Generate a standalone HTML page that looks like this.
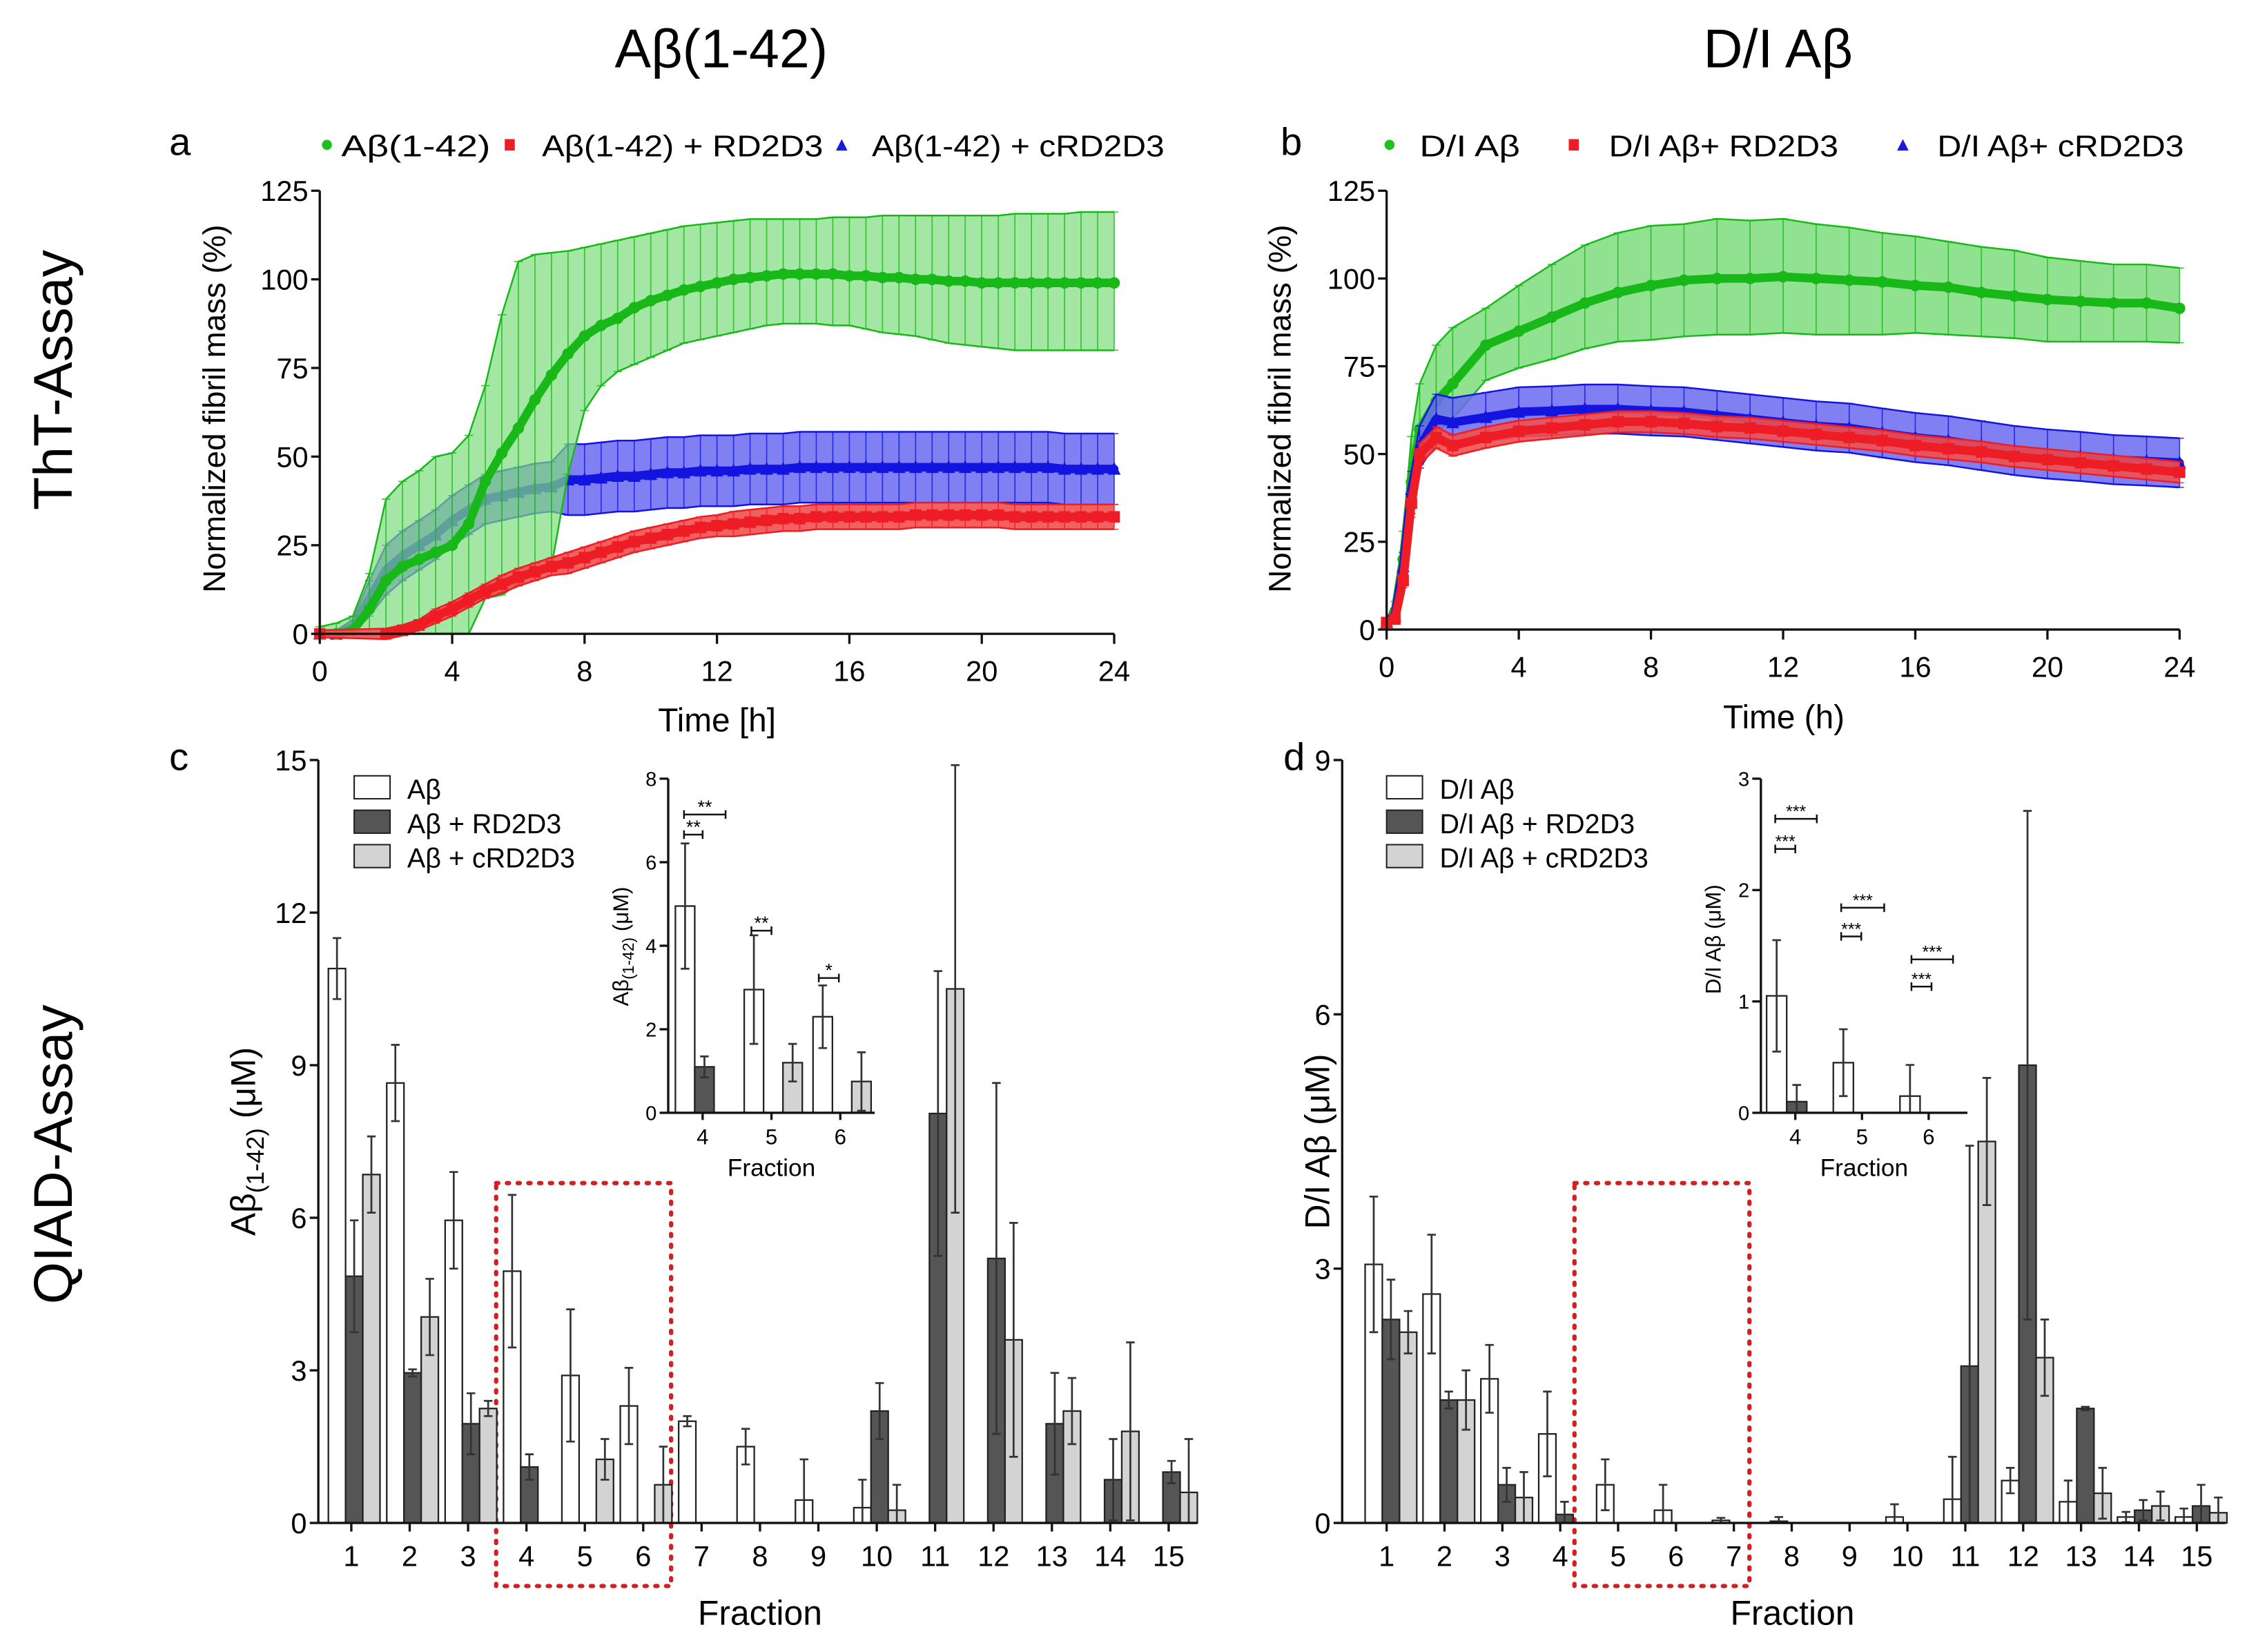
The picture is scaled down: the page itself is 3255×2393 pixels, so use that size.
<!DOCTYPE html>
<html><head><meta charset="utf-8">
<style>
html,body{margin:0;padding:0;background:#fff;}
svg{display:block;font-family:"Liberation Sans",Arial,sans-serif;}
</style></head>
<body>
<svg id="fig" xmlns="http://www.w3.org/2000/svg" width="3255" height="2393" viewBox="0 0 1567 1152" preserveAspectRatio="none">
<rect x="0" y="0" width="1567" height="1152" fill="#fff"/>
<text x="503" y="47" font-size="38" text-anchor="middle">Aβ(1-42)</text>
<text x="1240" y="47" font-size="38" text-anchor="middle">D/I Aβ</text>
<text transform="translate(50,265) rotate(-90)" font-size="38" text-anchor="middle">ThT-Assay</text>
<text transform="translate(50,805) rotate(-90)" font-size="38" text-anchor="middle">QIAD-Assay</text>
<text x="118" y="108" font-size="27">a</text>
<text x="893" y="108" font-size="27">b</text>
<text x="118" y="537" font-size="27">c</text>
<text x="895" y="537" font-size="27">d</text>
<g id="legA">
<circle cx="228" cy="101" r="3.5" fill="#1ec01e"/>
<text x="238" y="109" font-size="21" textLength="104" lengthAdjust="spacingAndGlyphs">Aβ(1-42)</text>
<rect x="352" y="97" width="7" height="8" fill="#ee1c24"/>
<text x="378" y="109" font-size="21" textLength="196" lengthAdjust="spacingAndGlyphs">Aβ(1-42) + RD2D3</text>
<polygon points="583,105 587,97 591,105" fill="#1a1ad8"/>
<text x="608" y="109" font-size="21" textLength="204" lengthAdjust="spacingAndGlyphs">Aβ(1-42) + cRD2D3</text>
</g>
<g id="legB">
<circle cx="969" cy="101" r="3.5" fill="#1ec01e"/>
<text x="990" y="109" font-size="21" textLength="70" lengthAdjust="spacingAndGlyphs">D/I Aβ</text>
<rect x="1094" y="97" width="7" height="8" fill="#ee1c24"/>
<text x="1122" y="109" font-size="21" textLength="160" lengthAdjust="spacingAndGlyphs">D/I Aβ+ RD2D3</text>
<polygon points="1323,105 1327,97 1331,105" fill="#1a1ad8"/>
<text x="1351" y="109" font-size="21" textLength="172" lengthAdjust="spacingAndGlyphs">D/I Aβ+ cRD2D3</text>
</g>
<text transform="translate(157,285) rotate(-90)" font-size="22" text-anchor="middle">Normalized fibril mass (%)</text>
<text transform="translate(900,285) rotate(-90)" font-size="22" text-anchor="middle">Normalized fibril mass (%)</text>
<text x="500" y="510" font-size="23" text-anchor="middle">Time [h]</text>
<text x="1244" y="508" font-size="23" text-anchor="middle">Time (h)</text>
<text transform="translate(178,796) rotate(-90)" font-size="24" text-anchor="middle">Aβ<tspan font-size="17" dy="6">(1-42)</tspan><tspan dy="-6"> (μM)</tspan></text>
<text transform="translate(927,796) rotate(-90)" font-size="24" text-anchor="middle">D/I Aβ (μM)</text>
<text x="530" y="1133" font-size="24" text-anchor="middle">Fraction</text>
<text x="1250" y="1133" font-size="24" text-anchor="middle">Fraction</text>
<text x="538" y="820" font-size="17" text-anchor="middle">Fraction</text>
<text x="1300" y="820" font-size="17" text-anchor="middle">Fraction</text>
<text transform="translate(438,660) rotate(-90)" font-size="15" text-anchor="middle">Aβ<tspan font-size="11" dy="4">(1-42)</tspan><tspan dy="-4"> (μM)</tspan></text>
<text transform="translate(1200,655) rotate(-90)" font-size="15" text-anchor="middle">D/I Aβ (μM)</text>
<g>
<rect x="247" y="541" width="25" height="16" fill="#fff" stroke="#222"/>
<text x="284" y="557" font-size="19">Aβ</text>
<rect x="247" y="565" width="25" height="16" fill="#555" stroke="#222"/>
<text x="284" y="581" font-size="19">Aβ + RD2D3</text>
<rect x="247" y="589" width="25" height="16" fill="#d3d3d3" stroke="#222"/>
<text x="284" y="605" font-size="19">Aβ + cRD2D3</text>
</g>
<g>
<rect x="967" y="541" width="25" height="16" fill="#fff" stroke="#222"/>
<text x="1004" y="557" font-size="19">D/I Aβ</text>
<rect x="967" y="565" width="25" height="16" fill="#555" stroke="#222"/>
<text x="1004" y="581" font-size="19">D/I Aβ + RD2D3</text>
<rect x="967" y="589" width="25" height="16" fill="#d3d3d3" stroke="#222"/>
<text x="1004" y="605" font-size="19">D/I Aβ + cRD2D3</text>
</g>
<rect x="346" y="825" width="122" height="281" fill="none" stroke="#d02020" stroke-width="3" stroke-dasharray="1.5,6" stroke-linecap="round"/>
<rect x="1098" y="825" width="122" height="281" fill="none" stroke="#d02020" stroke-width="3" stroke-dasharray="1.5,6" stroke-linecap="round"/>
<g id="plots"></g>
</svg>
<script>
// ---------- Panel a data (time in h, step 0.5) ----------
const timesA = [];
for (let i = 0; i <= 48; i++) timesA.push(i / 2);
const aGreenMean = [0,0,1,7,15,19,21,23,25,31,43,51,58,66,73,79,84,87,89,92,94,95.5,97,98,99,100,100.5,101,101.5,101.5,101.5,101.5,101,101,100.5,100.5,100,100,99.5,99.5,99,99,99,99,99,99,99,99,99];
const aGreenHigh = [2,3,5,17,38,43,46,50,51,56,70,90,105,107,107.5,108,109,110,111,112,113,114,115,115.5,116,116.5,117,117,117,117,117,117.5,117.5,117.5,118,118,118,118,118,118,118,118,118.5,118.5,118.5,118.5,119,119,119];
const aGreenLow = [0,0,0,0,0,0,0,0,0,0,10,11,14,17,19,45,63,70,74,76,78,80,82,83,84,85,86,87,87.5,87.5,87.5,87,87,86,85,84.5,84,83,82,81.5,81,80.5,80,80,80,80,80,80,80];
const aBlueMean = [0,0,2,10,18,22,25,28,32,35,38,39,40,41,41.5,43.5,43.5,44,44.5,44.5,45,45.5,45.5,46,46,46,46.5,46.5,46.5,47,47,47,47,47,47,47,47,47,47,47,47,47,47,47,47,46.5,46.5,46.5,46.5];
const aBlueErr = [1,1,2,5,7,7,7,7,7,7,7,7,7,7,7,10,10,10,10,10,10,10,10,10,10,10,10,10,10,10,10,10,10,10,10,10,10,10,10,10,10,10,10,10,10,10,10,10,10];
const aRedMean = [0,null,null,null,0,1,2.5,5,7,9.5,12,14,16,17.5,19,20,21.5,23,24.5,26,27,28,29,30,30.5,31,31.5,32,32.5,32.5,33,33,33,33,33,33,33.5,33.5,33.5,33.5,33.5,33.5,33,33,33,33,33,33,33];
const aRedErr = [1,null,null,null,1.5,1.5,1.5,2,2,2,2,2.5,2.5,2.5,2.5,3,3,3,3,3,3,3,3,3,3,3.5,3.5,3.5,3.5,3.5,3.5,3.5,3.5,3.5,3.5,3.5,3.5,3.5,3.5,3.5,3.5,3.5,3.5,3.5,3.5,3.5,3.5,3.5,3.5];
// ---------- Panel b data ----------
const timesB = [0,0.25,0.5,0.75,1,1.5,2,3,4,5,6,7,8,9,10,11,12,13,14,15,16,17,18,19,20,21,22,23,24];
const bGreenMean = [2,5,20,42,57,65,70,81,85,89,93,96,98,99.5,100,100,100.5,100,99.5,99,98,97.5,96,95,94,93.5,93,93,91.5];
const bGreenHigh = [3,8,28,55,70,81,86,91.5,98,104,109.5,113,115,115.5,117,116.5,117,115.5,114.5,113,112,110.5,109,108,106,105,104,104,103];
const bGreenLow = [1,3,14,32,48,56,60,71,74.5,77,80,82,82.5,83.5,84,84,84.5,84,84,84,84.5,84,83.5,83,82,82,82,82,81.7];
const bBlueMean = [2,4,18,40,52,60,59,60.5,62,62.3,62.8,62.8,62.3,62,61,60,59,58,57.4,56,54.7,53.8,52.4,51,50,49.3,48.4,48,47.5];
const bBlueErr = [1,2,4,5,6,7,7,7,7,7,7,7,7,7,7,7,7,7,7,7,7,7,7,7,7,7,7,7,7];
const bRedMean = [2,3,14,36,50,54.7,52.4,54.7,56.5,57.4,58.3,59.2,59.2,58.7,57.8,57.4,56.5,55.6,54.7,53.8,52.4,51.5,50.6,49.3,48.4,47.5,46.6,45.7,44.8];
const bRedErr = [1,1,2,3,3,3,3,3,3,3,3,3,3,3,3,3,3,3,3,3,3,3,3,3,3,3,3,3,3];
const timeTicks = [0,4,8,12,16,20,24];
const massTicks = [0,25,50,75,100,125];
// ---------- Panel c data ----------
const fractions = [1,2,3,4,5,6,7,8,9,10,11,12,13,14,15];
const cAbeta = [10.9,8.65,5.95,4.95,2.9,2.3,2.0,1.5,0.45,0.3,0,0,0,0,0];
const cAbetaErr = [0.6,0.75,0.95,1.5,1.3,0.75,0.1,0.35,0.8,0.55,0,0,0,0,0];
const cRD = [4.85,2.95,1.95,1.1,0,0,0,0,0,2.2,8.05,5.2,1.95,0.85,1.0];
const cRDErr = [1.1,0.07,0.6,0.25,0,0,0,0,0,0.55,2.8,3.45,1.0,0.8,0.22];
const cCRD = [6.85,4.05,2.25,0,1.25,0.75,0,0,0,0.25,10.5,3.6,2.2,1.8,0.6];
const cCRDErr = [0.75,0.75,0.15,0,0.4,0.75,0,0,0,0.5,4.4,2.3,0.65,1.75,1.05];
const cTicks = [0,3,6,9,12,15];
const cInsetFractions = [4,5,6];
const cInsetAbeta = [4.95,2.95,2.3];
const cInsetAbetaErr = [1.5,1.3,0.75];
const cInsetRD = [1.1,0,0];
const cInsetRDErr = [0.25,0,0];
const cInsetCRD = [0,1.2,0.75];
const cInsetCRDErr = [0,0.45,0.7];
const cInsetTicks = [0,2,4,6,8];
// ---------- Panel d data ----------
const dAbeta = [3.05,2.7,1.7,1.05,0.45,0.15,0.03,0.02,0,0.07,0.28,0.5,0.25,0.07,0.07];
const dAbetaErr = [0.8,0.7,0.4,0.5,0.3,0.3,0.03,0.05,0.03,0.15,0.5,0.15,0.25,0.06,0.1];
const dRD = [2.4,1.45,0.45,0.1,0,0,0,0,0,0,1.85,5.4,1.35,0.15,0.2];
const dRDErr = [0.47,0.1,0.2,0.15,0,0,0,0,0,0,2.6,3.0,0.02,0.12,0.25];
const dCRD = [2.25,1.45,0.3,0,0,0,0,0,0,0,4.5,1.95,0.35,0.2,0.12];
const dCRDErr = [0.25,0.35,0.3,0,0,0,0,0,0,0,0.75,0.45,0.3,0.17,0.18];
const dTicks = [0,3,6,9];
const dInsetFractions = [4,5,6];
const dInsetAbeta = [1.05,0.45,0.15];
const dInsetAbetaErr = [0.5,0.3,0.28];
const dInsetRD = [0.1,0,0];
const dInsetRDErr = [0.15,0,0];
const dInsetTicks = [0,1,2,3];

const NS = 'http://www.w3.org/2000/svg';
const root = document.getElementById('plots');
function mk(tag, attrs, parent) {
  const e = document.createElementNS(NS, tag);
  for (const k in attrs) e.setAttribute(k, attrs[k]);
  parent.appendChild(e);
  return e;
}
function lin(d0, d1, r0, r1) { return v => r0 + (v - d0) * (r1 - r0) / (d1 - d0); }

function yAxis(g, x, ys, ticks, fs, name) {
  const ax = mk('line', {x1: x, x2: x, y1: ys(ticks[0]), y2: ys(ticks[ticks.length - 1]), stroke: '#111', 'stroke-width': 1.6}, g);
  
  
  ticks.forEach(t => {
    const tk = mk('line', {x1: x - 6, x2: x, y1: ys(t), y2: ys(t), stroke: '#111', 'stroke-width': 1.6}, g);
    
    
    const tl = mk('text', {x: x - 8, y: ys(t) + fs * 0.36, 'font-size': fs, 'text-anchor': 'end'}, g);
    tl.textContent = t;
    
    
  });
}
function xAxis(g, y, xs, x0, x1, ticks, fs, name, tickLen, gap) {
  const ax = mk('line', {x1: x0, x2: x1, y1: y, y2: y, stroke: '#111', 'stroke-width': 1.6}, g);
  
  
  ticks.forEach(t => {
    const tk = mk('line', {x1: xs(t), x2: xs(t), y1: y, y2: y + tickLen, stroke: '#111', 'stroke-width': 1.6}, g);
    
    
    const tl = mk('text', {x: xs(t), y: y + gap, 'font-size': fs, 'text-anchor': 'middle'}, g);
    tl.textContent = t;
    
    
  });
}

function series(g, times, mean, low, high, xs, ys, col, band, bandOp, marker, name) {
  const grp = mk('g', {}, g);
  
  
  const up = [], dn = [];
  times.forEach((t, i) => { if (mean[i] !== null) { up.push(xs(t) + ',' + ys(high[i])); dn.unshift(xs(t) + ',' + ys(low[i])); } });
  const poly = mk('polygon', {points: up.concat(dn).join(' '), fill: band, 'fill-opacity': bandOp}, grp);
  
  
  times.forEach((t, i) => {
    if (mean[i] === null) return;
    const x = xs(t);
    const eb = mk('path', {d: `M${x},${ys(high[i])}V${ys(low[i])}M${x-3},${ys(high[i])}h6M${x-3},${ys(low[i])}h6`, stroke: col, 'stroke-width': 0.8, fill: 'none', opacity: 0.8}, grp);
    
    
  });
  const pu = mk('polyline', {points: up.join(' '), fill: 'none', stroke: col, 'stroke-width': 1.2}, grp);
  
  
  const pd = mk('polyline', {points: dn.join(' '), fill: 'none', stroke: col, 'stroke-width': 1.2}, grp);
  
  
  let segs = [], cur = [];
  times.forEach((t, i) => { if (mean[i] === null) { if (cur.length) segs.push(cur); cur = []; } else cur.push(xs(t) + ',' + ys(mean[i])); });
  if (cur.length) segs.push(cur);
  segs.forEach(s => {
    const pl = mk('polyline', {points: s.join(' '), fill: 'none', stroke: col, 'stroke-width': 6, 'stroke-linejoin': 'round', 'stroke-linecap': 'round'}, grp);
    
    
  });
  times.forEach((t, i) => {
    if (mean[i] === null) return;
    const x = xs(t), y = ys(mean[i]);
    let m;
    if (marker === 'circle') m = mk('circle', {cx: x, cy: y, r: 4, fill: col}, grp);
    else if (marker === 'square') m = mk('rect', {x: x - 4, y: y - 4, width: 8, height: 8, fill: col}, grp);
    else m = mk('polygon', {points: `${x-4.5},${y+4} ${x},${y-5} ${x+4.5},${y+4}`, fill: col}, grp);
    
    
  });
}

// ---------- Panel a ----------
(function () {
  const g = mk('g', {}, root);
  
  
  const xs = lin(0, 24, 223, 777), ys = lin(0, 125, 442, 133);
  series(g, timesA, aBlueMean, aBlueMean.map((v, i) => v === null ? null : v - aBlueErr[i]), aBlueMean.map((v, i) => v === null ? null : v + aBlueErr[i]), xs, ys, '#1414e0', '#6a6af0', 0.85, 'triangle', 'series-a-crd2d3');
  series(g, timesA, aGreenMean, aGreenLow, aGreenHigh, xs, ys, '#18b818', '#7ddc7d', 0.7, 'circle', 'series-a-abeta');
  series(g, timesA, aRedMean, aRedMean.map((v, i) => v === null ? null : v - aRedErr[i]), aRedMean.map((v, i) => v === null ? null : v + aRedErr[i]), xs, ys, '#ee1c24', '#f05050', 0.9, 'square', 'series-a-rd2d3');
  yAxis(g, 223, ys, massTicks, 20, 'y-axis-a');
  xAxis(g, 442, xs, 223, 777, timeTicks, 20, 'x-axis-a', 7, 33);
})();
// ---------- Panel b ----------
(function () {
  const g = mk('g', {}, root);
  
  
  const xs = lin(0, 24, 967, 1520), ys = lin(0, 125, 439, 133);
  series(g, timesB, bGreenMean, bGreenLow, bGreenHigh, xs, ys, '#18b818', '#7ddc7d', 0.85, 'circle', 'series-b-di');
  series(g, timesB, bBlueMean, bBlueMean.map((v, i) => v - bBlueErr[i]), bBlueMean.map((v, i) => v + bBlueErr[i]), xs, ys, '#1414e0', '#6a6af0', 0.85, 'triangle', 'series-b-crd2d3');
  series(g, timesB, bRedMean, bRedMean.map((v, i) => v - bRedErr[i]), bRedMean.map((v, i) => v + bRedErr[i]), xs, ys, '#ee1c24', '#f05050', 0.9, 'square', 'series-b-rd2d3');
  yAxis(g, 967, ys, massTicks, 20, 'y-axis-b');
  xAxis(g, 439, xs, 967, 1520, timeTicks, 20, 'x-axis-b', 7, 33);
})();

function bars(g, cats, xs, ys, sets, offs, w, name) {
  sets.forEach((s, si) => {
    cats.forEach((c, i) => {
      const v = s.vals[i], e = s.errs[i];
      if (!(v > 0)) return;
      const x = xs(c) + offs[si];
      const b = mk('rect', {x: x, y: ys(v), width: w, height: ys(0) - ys(v), fill: s.fill, stroke: '#222', 'stroke-width': 1.1}, g);
      
      
      if (e > 0) {
        const cx = x + w / 2, y1 = ys(v + e), y2 = ys(Math.max(0, v - e));
        const eb = mk('path', {d: `M${cx},${y1}V${y2}M${cx-3},${y1}h6M${cx-3},${y2}h6`, stroke: '#333', 'stroke-width': 1.3, fill: 'none'}, g);
        
        
      }
    });
  });
}
function sig(g, x1, x2, y, label, fs, name) {
  const p = mk('path', {d: `M${x1},${y-3}V${y+3}M${x1},${y}H${x2}M${x2},${y-3}V${y+3}`, stroke: '#111', 'stroke-width': 1.2, fill: 'none'}, g);
  
  
  const t = mk('text', {x: (x1 + x2) / 2, y: y - 1, 'font-size': fs, 'text-anchor': 'middle'}, g);
  t.textContent = label;
  
  
}
// ---------- Panel c ----------
(function () {
  const g = mk('g', {}, root);
  
  
  const xs = lin(1, 15, 245, 815), ys = lin(0, 15, 1062, 530);
  bars(g, fractions, xs, ys, [
    {vals: cAbeta, errs: cAbetaErr, fill: '#fff', key: 'abeta'},
    {vals: cRD, errs: cRDErr, fill: '#555', key: 'rd2d3'},
    {vals: cCRD, errs: cCRDErr, fill: '#d3d3d3', key: 'crd2d3'}], [-16, -4, 8], 12, 'c');
  yAxis(g, 222, ys, cTicks, 20, 'y-axis-c');
  xAxis(g, 1062, xs, 222, 835, fractions, 20, 'x-axis-c', 6, 30);
  const ixs = lin(4, 6, 490, 586), iys = lin(0, 8, 776, 543);
  bars(g, cInsetFractions, ixs, iys, [
    {vals: cInsetAbeta, errs: cInsetAbetaErr, fill: '#fff', key: 'abeta'},
    {vals: cInsetRD, errs: cInsetRDErr, fill: '#555', key: 'rd2d3'},
    {vals: cInsetCRD, errs: cInsetCRDErr, fill: '#d3d3d3', key: 'crd2d3'}], [-19, -5.5, 8], 13.5, 'inset-c');
  yAxis(g, 466, iys, cInsetTicks, 14, 'inset-y-axis-c');
  xAxis(g, 776, ixs, 466, 610, cInsetFractions, 15, 'inset-x-axis-c', 5, 22);
  sig(g, 477, 506, 568, '**', 13, 'significance-c-4-long');
  sig(g, 477, 490, 582, '**', 13, 'significance-c-4-short');
  sig(g, 524, 538, 649, '**', 13, 'significance-c-5');
  sig(g, 571, 585, 682, '*', 13, 'significance-c-6');
})();
// ---------- Panel d ----------
(function () {
  const g = mk('g', {}, root);
  
  
  const xs = lin(1, 15, 967, 1532), ys = lin(0, 9, 1062, 530);
  bars(g, fractions, xs, ys, [
    {vals: dAbeta, errs: dAbetaErr, fill: '#fff', key: 'di'},
    {vals: dRD, errs: dRDErr, fill: '#555', key: 'rd2d3'},
    {vals: dCRD, errs: dCRDErr, fill: '#d3d3d3', key: 'crd2d3'}], [-15, -3, 9], 12, 'd');
  yAxis(g, 936, ys, dTicks, 20, 'y-axis-d');
  xAxis(g, 1062, xs, 936, 1552, fractions, 20, 'x-axis-d', 6, 30);
  const ixs = lin(4, 6, 1252, 1345), iys = lin(0, 3, 776, 543);
  bars(g, dInsetFractions, ixs, iys, [
    {vals: dInsetAbeta, errs: dInsetAbetaErr, fill: '#fff', key: 'di'},
    {vals: dInsetRD, errs: dInsetRDErr, fill: '#555', key: 'rd2d3'}], [-20, -6], 14, 'inset-d');
  yAxis(g, 1228, iys, dInsetTicks, 14, 'inset-y-axis-d');
  xAxis(g, 776, ixs, 1228, 1372, dInsetFractions, 15, 'inset-x-axis-d', 5, 22);
  sig(g, 1238, 1267, 571, '***', 12, 'significance-d-4-long');
  sig(g, 1238, 1252, 592, '***', 12, 'significance-d-4-short');
  sig(g, 1284, 1314, 633, '***', 12, 'significance-d-5-long');
  sig(g, 1284, 1298, 653, '***', 12, 'significance-d-5-short');
  sig(g, 1333, 1362, 669, '***', 12, 'significance-d-6-long');
  sig(g, 1333, 1347, 688, '***', 12, 'significance-d-6-short');
})();
</script>
</body></html>
